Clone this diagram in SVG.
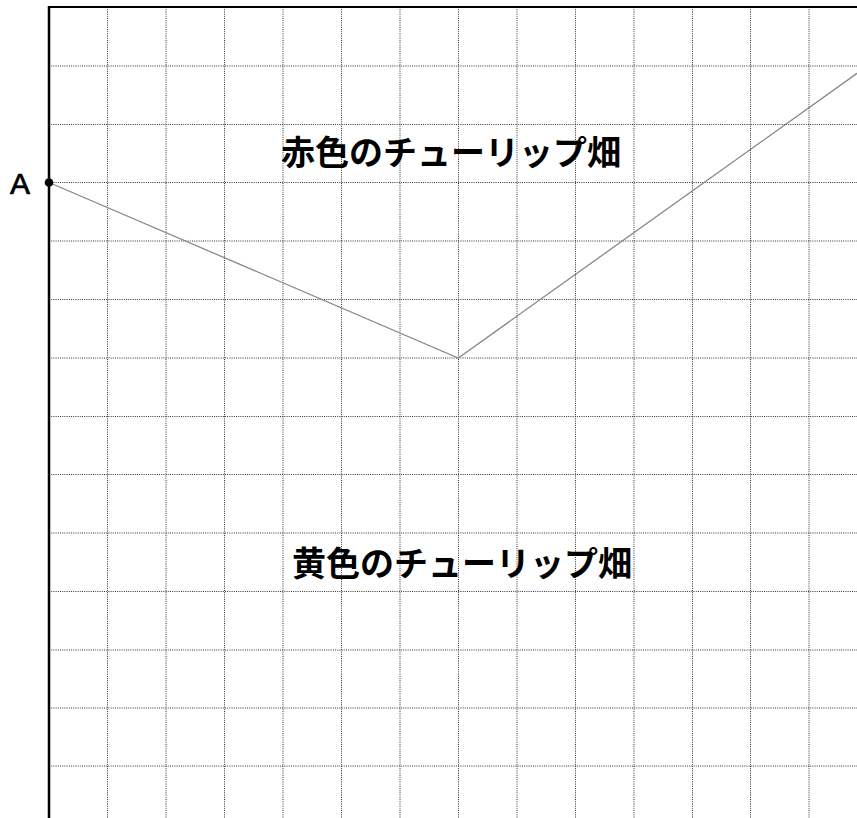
<svg xmlns="http://www.w3.org/2000/svg" width="857" height="818" viewBox="0 0 857 818">
<style>
.grid line{stroke:#333;stroke-width:1;stroke-dasharray:1 1.2}
.frame{stroke:#000;fill:none}
.route{stroke:#888;stroke-width:1.3;fill:none}
.label{font-family:"Noto Sans CJK JP","Noto Sans",sans-serif;font-size:34px;font-weight:bold;fill:#000;text-anchor:middle}
.pt{font-family:"Liberation Sans",Arial,sans-serif;font-size:30px;fill:#000;stroke:#000;stroke-width:0.7}
</style>
<rect width="857" height="818" fill="#fff"/>
<g id="grid" class="grid">
<line x1="107.5" y1="7" x2="107.5" y2="818"/>
<line x1="166" y1="7" x2="166" y2="818"/>
<line x1="224.5" y1="7" x2="224.5" y2="818"/>
<line x1="283" y1="7" x2="283" y2="818"/>
<line x1="341.5" y1="7" x2="341.5" y2="818"/>
<line x1="400" y1="7" x2="400" y2="818"/>
<line x1="458.5" y1="7" x2="458.5" y2="818"/>
<line x1="517" y1="7" x2="517" y2="818"/>
<line x1="575.5" y1="7" x2="575.5" y2="818"/>
<line x1="634" y1="7" x2="634" y2="818"/>
<line x1="692.5" y1="7" x2="692.5" y2="818"/>
<line x1="750.5" y1="7" x2="750.5" y2="818"/>
<line x1="809" y1="7" x2="809" y2="818"/>
<line x1="49" y1="66" x2="857" y2="66"/>
<line x1="49" y1="124.5" x2="857" y2="124.5"/>
<line x1="49" y1="182.5" x2="857" y2="182.5"/>
<line x1="49" y1="241" x2="857" y2="241"/>
<line x1="49" y1="299.5" x2="857" y2="299.5"/>
<line x1="49" y1="358" x2="857" y2="358"/>
<line x1="49" y1="416.5" x2="857" y2="416.5"/>
<line x1="49" y1="474.5" x2="857" y2="474.5"/>
<line x1="49" y1="533" x2="857" y2="533"/>
<line x1="49" y1="591.5" x2="857" y2="591.5"/>
<line x1="49" y1="650" x2="857" y2="650"/>
<line x1="49" y1="708" x2="857" y2="708"/>
<line x1="49" y1="766" x2="857" y2="766"/>
</g>
<g id="frame">
<line class="frame" x1="49" y1="6" x2="49" y2="818" stroke-width="2.5"/>
<line class="frame" x1="48" y1="7" x2="857" y2="7" stroke-width="2.2"/>
</g>
<g id="connectors">
<polyline class="route" points="49,182.5 458.3,358 867.3,66"/>
</g>
<g id="pointA">
<circle cx="49" cy="182.5" r="4.3" fill="#000"/>
<text class="pt" x="10" y="194">A</text>
</g>
<g id="red-field">
<text class="label" x="451" y="165">赤色のチューリップ畑</text>
</g>
<g id="yellow-field">
<text class="label" x="462" y="576">黄色のチューリップ畑</text>
</g>
</svg>
